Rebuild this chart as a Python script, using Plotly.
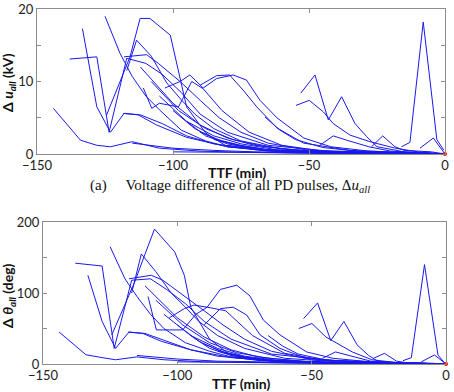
import plotly.graph_objects as go

# ---- data: one entry per PD event (TTF in minutes) ----
TTF = [
    [-144, -134, -128, -123, -115, -105, -90, -70, -40, 0],
    [-138, -128, -123.5, -117, -110, -104, -97, -90, -80, -65, -40, 0],
    [-133.3, -128, -123, -118, -112, -104, -95, -85, -70, -45, 0],
    [-125, -119.5, -115, -110, -105, -97, -88, -80, -65, -40, 0],
    [-124.4, -115.8, -112.1, -108.5, -101, -97.4, -95, -88, -80, -65, -40, 0],
    [-117, -113.4, -108, -102.3, -97, -92, -85, -75, -60, -40, 0],
    [-118, -109.7, -105.4, -97.4, -90, -83, -75, -65, -50, 0],
    [-103, -97.4, -93.8, -88.9, -84, -77.9, -73, -68, -61.8, -51.9, -42, -28, 0],
    [-90, -84, -79.2, -74.2, -69.2, -61.8, -52, -35, 0],
    [-110.9, -107.8, -105, -98, -93.1, -88.9, -82, -72, -60, -45, 0],
    [-118.3, -112.8, -106, -95, -80, -60, -30, 0],
    [-112, -100, -90, -80, -70, -55, -35, 0],
    [-108, -98, -88, -78, -66, -50, -30, 0],
    [-105, -95, -85, -75, -62, -45, 0],
    [-100, -92, -84, -75, -65, -50, 0],
    [-95, -88, -80, -70, -55, 0],
    [-90, -82, -74, -65, -50, 0],
    [-85, -76, -66, -55, -40, 0],
    [-115, -100, -85, -70, -50, -20, 0],
    [-80, -70, -60, -45, -25, 0],
    [-66.2, -60.7, -55, -45, -30, 0],
    [-53, -47.8, -42.9, -38, -33.1, -28.8, -25, -15, 0],
    [-54.8, -49.9, -44.7, -41.1, -34.9, -27.6, -18.3, -10, 0],
    [-46, -41.1, -36.1, -28, -20, 0],
    [-27, -22.9, -18.4, -15, -5, 0],
    [-16, -12.9, -8, -3, -0.4],
    [-9.2, -4.3, 0],
    [-100, -60, -30, 0],
    [-75, -50, -25, 0],
    [-60, -40, -20, 0],
]

DU = [
    [6.3, 1.9, 1.2, 1.0, 1.7, 0.8, 0.4, 0.2, 0.1, 0],
    [13.1, 13.4, 3.0, 13.2, 12.5, 11, 8.5, 5.5, 3, 1.2, 0.3, 0],
    [17.3, 6.5, 3.0, 5.6, 5.4, 4.2, 2.5, 1.4, 0.7, 0.2, 0],
    [19, 13.9, 10.7, 8, 6.1, 3.3, 1.8, 1.0, 0.5, 0.2, 0],
    [5.4, 13.4, 18.7, 18.7, 16.4, 10.7, 6.5, 2.9, 1, 0.4, 0.1, 0],
    [11.5, 15.7, 13.5, 9.8, 7.5, 5.5, 3.5, 1.8, 0.7, 0.2, 0],
    [13.4, 13.7, 12.5, 10, 7.4, 5, 3, 1.5, 0.5, 0],
    [9.1, 10, 10.9, 9.1, 10.4, 10.9, 10.2, 7.4, 5, 2.2, 1.0, 0.4, 0],
    [9.5, 10.8, 10.9, 8.8, 6.5, 3.6, 1.5, 0.5, 0],
    [9.1, 6.3, 7, 6.5, 10, 9.0, 6, 3, 1.2, 0.4, 0],
    [5.6, 5.4, 4, 2.3, 1, 0.4, 0.1, 0],
    [12, 7, 4, 2.2, 1.2, 0.5, 0.2, 0],
    [10, 6, 3.5, 2, 1, 0.4, 0.1, 0],
    [8, 4.5, 2.5, 1.4, 0.6, 0.2, 0],
    [6, 3.5, 2, 1.2, 0.6, 0.2, 0],
    [4.5, 2.5, 1.4, 0.7, 0.3, 0],
    [3, 1.8, 1, 0.5, 0.2, 0],
    [2, 1.2, 0.6, 0.3, 0.1, 0],
    [1.5, 0.8, 0.5, 0.3, 0.2, 0.1, 0],
    [1.2, 0.6, 0.3, 0.2, 0.1, 0],
    [5.1, 3.3, 2, 0.9, 0.3, 0],
    [8.4, 10.9, 4.7, 7.9, 4.2, 2.4, 1, 0.3, 0],
    [6.7, 7.4, 5.8, 4.2, 2.6, 1.7, 0.8, 0.3, 0],
    [1.2, 2.5, 1.9, 1, 0.4, 0],
    [1, 2.5, 1, 0.5, 0.3, 0],
    [1, 1.6, 18.2, 2, 0.5],
    [0.8, 2.2, 0],
    [0.3, 0.2, 0.15, 0],
    [0.25, 0.15, 0.1, 0],
    [0.2, 0.15, 0.1, 0],
]

DTH = [
    [45, 13, 9, 6, 10, 6, 3, 2, 1, 0],
    [142, 138, 22, 118, 120, 105, 85, 60, 35, 14, 4, 0],
    [125, 60, 22, 45, 43, 32, 20, 11, 6, 2, 0],
    [165, 120, 95, 70, 50, 30, 18, 10, 5, 2, 0],
    [41, 116, 154, 190, 158, 125, 80, 35, 12, 5, 2, 0],
    [100, 155, 130, 100, 80, 60, 40, 22, 8, 3, 0],
    [120, 125, 118, 95, 75, 55, 35, 18, 6, 0],
    [65, 78, 83, 80, 105, 111, 96, 62, 41, 17, 8, 3, 0],
    [55, 78, 80, 69, 41, 22, 8, 3, 0],
    [95, 48, 48, 48, 70, 80, 75, 40, 15, 5, 0],
    [45, 43, 32, 20, 9, 3, 1, 0],
    [110, 65, 38, 20, 10, 4, 1, 0],
    [90, 55, 30, 16, 8, 3, 1, 0],
    [70, 40, 22, 11, 5, 2, 0],
    [55, 32, 18, 10, 5, 2, 0],
    [40, 22, 12, 6, 2, 0],
    [28, 16, 9, 4, 2, 0],
    [18, 10, 5, 3, 1, 0],
    [12, 7, 4, 3, 2, 1, 0],
    [10, 5, 3, 2, 1, 0],
    [40, 25, 14, 6, 2, 0],
    [64, 86, 33, 60, 27, 12, 3, 1, 0],
    [50, 57, 38, 30, 17, 6, 2, 1, 0],
    [8, 17, 12, 4, 2, 0],
    [8, 15, 4, 2, 1, 0],
    [4.7, 8.9, 140, 12.7, 1],
    [3, 12.7, 0],
    [3, 2, 1, 0],
    [2, 1.5, 1, 0],
    [2, 1, 0.5, 0],
]

END_X = [0]
END_U = [0]
END_TH = [0]

X_TICKS = [-150, -100, -50, 0]
U_TICKS = [0, 5, 10, 15, 20]
U_LABELS = ["0", "", "10", "", "20"]
TH_TICKS = [0, 50, 100, 150, 200]
TH_LABELS = ["0", "", "100", "", "200"]

BLUE = "rgb(25,25,235)"
FRAME = "#8c8c8c"
TICKFONT = dict(family="Lato, 'Open Sans', sans-serif", size=13, color="#222")

fig = go.Figure()
for x, u, th in zip(TTF, DU, DTH):
    fig.add_trace(go.Scatter(x=x, y=u, mode="lines", line=dict(color=BLUE, width=1),
                             xaxis="x", yaxis="y", showlegend=False, hoverinfo="skip"))
    fig.add_trace(go.Scatter(x=x, y=th, mode="lines", line=dict(color=BLUE, width=1),
                             xaxis="x2", yaxis="y2", showlegend=False, hoverinfo="skip"))

fig.add_trace(go.Scatter(x=END_X, y=END_U, mode="markers", marker=dict(color="red", size=4),
                         xaxis="x", yaxis="y", showlegend=False, cliponaxis=False))
fig.add_trace(go.Scatter(x=END_X, y=END_TH, mode="markers", marker=dict(color="red", size=4),
                         xaxis="x2", yaxis="y2", showlegend=False, cliponaxis=False))

W, H = 454, 392


def ax_common():
    return dict(showline=True, linecolor=FRAME, linewidth=1, mirror="ticks",
                ticks="inside", ticklen=4, tickcolor=FRAME, showgrid=False,
                zeroline=False, tickfont=TICKFONT, automargin=False)


fig.update_layout(
    width=W, height=H, margin=dict(l=0, r=0, t=0, b=0, autoexpand=False),
    paper_bgcolor="white", plot_bgcolor="white",
    xaxis=dict(domain=[37 / W, 445 / W], range=[-150, 0], anchor="y",
               tickvals=X_TICKS, ticklabelstandoff=-1, **ax_common()),
    yaxis=dict(domain=[(H - 154) / H, (H - 9) / H], range=[0, 20], anchor="x",
               tickvals=U_TICKS, ticktext=U_LABELS, **ax_common()),
    xaxis2=dict(domain=[43 / W, 446 / W], range=[-150, 0], anchor="y2",
                tickvals=X_TICKS, ticklabelstandoff=-1, **ax_common()),
    yaxis2=dict(domain=[(H - 364) / H, (H - 222) / H], range=[0, 200], anchor="x2",
                tickvals=TH_TICKS, ticktext=TH_LABELS, **ax_common()),
)

TITLEFONT = dict(family="Lato, 'Open Sans', sans-serif", size=14, color="#111")
YTFONT = dict(family="Lato, 'Open Sans', sans-serif", size=14, color="#111")
SERIF = dict(family="'Liberation Serif', 'DejaVu Serif', serif", size=15, color="#111")

ann = [
    dict(text="<b>TTF (min)</b>", x=238 / W, y=(H - 172) / H, font=TITLEFONT,
         xanchor="center", yanchor="middle"),
    dict(text="<b>TTF (min)</b>", x=241 / W, y=(H - 383) / H, font=TITLEFONT,
         xanchor="center", yanchor="middle"),
    dict(text="<b>Δ <i>u<sub>all</sub></i> (kV)</b>", x=8 / W, y=(H - 83) / H,
         textangle=-90, font=YTFONT, xanchor="center", yanchor="middle"),
    dict(text="<b>Δ <i>θ<sub>all</sub></i> (deg)</b>", x=8 / W, y=(H - 296) / H,
         textangle=-90, font=YTFONT, xanchor="center", yanchor="middle"),
    dict(text="(a)&nbsp;&nbsp;&nbsp;&nbsp;&nbsp;Voltage difference of all PD pulses, Δ<i>u<sub>all</sub></i>",
         x=230 / W, y=(H - 186) / H, font=SERIF, xanchor="center", yanchor="middle"),
]
for a in ann:
    a.update(xref="paper", yref="paper", showarrow=False)
fig.update_layout(annotations=ann)

fig.write_html("out.html")
